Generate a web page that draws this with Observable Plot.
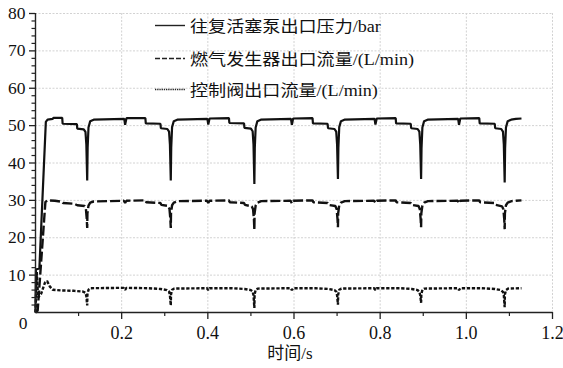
<!DOCTYPE html>
<html><head><meta charset="utf-8">
<script src="https://cdn.jsdelivr.net/npm/d3@7"></script>
<script src="https://cdn.jsdelivr.net/npm/@observablehq/plot@0.6"></script>
<style>
body{margin:0;background:#fff;}
#wrap{position:relative;width:563px;height:368px;}
.row{position:absolute;left:155px;height:20px;display:flex;align-items:center;white-space:nowrap;}
.row span{display:inline-block;margin-left:5px;transform:scaleX(1.13);transform-origin:0 50%;font-family:"Liberation Serif","Noto Sans CJK SC",serif;font-size:16px;color:#111;}
</style></head>
<body>
<div id="wrap"></div>
<script>
// series names
const seriesNames = ["往复活塞泵出口压力/bar", "燃气发生器出口流量/(L/min)", "控制阀出口流量/(L/min)"];
const xLabel = "时间/s";
const xTicks = [0.2, 0.4, 0.6, 0.8, 1.0, 1.2];
const xMinor = [0.1, 0.3, 0.5, 0.7, 0.9, 1.1];
const yTicks = [10, 20, 30, 40, 50, 60, 70, 80];
const yMinor = [2,4,6,8,12,14,16,18,22,24,26,28,32,34,36,38,42,44,46,48,52,54,56,58,62,64,66,68,72,74,76,78];

// 往复活塞泵出口压力 (bar)
const pressT = [0,0.001,0.009,0.024,0.028,0.040,0.042,0.062,0.063,0.096,0.097,0.112,0.116,0.118,0.120,0.121,0.123,0.127,0.135,
 0.206,0.208,0.211,0.212,0.255,0.256,0.290,0.291,0.306,0.310,0.312,0.314,0.315,0.317,0.321,0.329,
 0.399,0.401,0.404,0.449,0.450,0.484,0.485,0.500,0.504,0.506,0.508,0.509,0.511,0.515,0.523,
 0.593,0.595,0.598,0.643,0.644,0.678,0.679,0.694,0.698,0.700,0.702,0.703,0.705,0.709,0.717,
 0.787,0.789,0.792,0.836,0.837,0.871,0.872,0.887,0.891,0.893,0.895,0.896,0.898,0.902,0.910,
 0.981,0.983,0.986,1.030,1.031,1.066,1.067,1.081,1.085,1.087,1.089,1.090,1.092,1.096,1.104,1.115,1.128];
const pressV = [0,11.5,11.8,51.0,51.6,51.8,52.1,52.1,50.5,50.4,49.2,49.0,48.3,45.0,35.3,44,49.5,51.2,51.6,
 51.8,50.2,51.9,52.0,52.0,50.6,50.5,49.3,49.1,48.4,45,35.3,44,49.6,51.2,51.6,
 51.8,50.3,51.9,52.0,50.7,50.6,49.4,49.2,48.5,45,34.4,44,49.5,51.2,51.6,
 51.8,50.2,51.9,52.0,50.6,50.5,49.3,49.1,48.4,45,35.7,44,49.6,51.2,51.6,
 51.8,50.3,51.9,52.0,50.6,50.5,49.3,49.1,48.4,45,35.7,44,49.5,51.2,51.6,
 51.8,50.2,51.9,52.0,50.6,50.5,49.3,49.1,48.4,45,34.8,44,49.5,51.2,51.6,51.8,51.9];

// 燃气发生器出口流量 (L/min)
const gasT = [0,0.005,0.023,0.028,0.045,0.062,0.064,0.090,0.097,0.114,0.117,0.119,0.120,0.1205,0.123,0.127,0.135,
 0.205,0.208,0.211,0.255,0.257,0.290,0.292,0.308,0.311,0.313,0.314,0.3145,0.317,0.321,0.330,
 0.398,0.401,0.404,0.449,0.451,0.484,0.486,0.502,0.505,0.507,0.508,0.5085,0.511,0.515,0.524,
 0.592,0.595,0.598,0.643,0.645,0.678,0.680,0.696,0.699,0.701,0.702,0.7025,0.705,0.709,0.718,
 0.786,0.789,0.792,0.836,0.838,0.871,0.873,0.889,0.892,0.894,0.895,0.8955,0.898,0.902,0.911,
 0.980,0.983,0.986,1.030,1.032,1.066,1.068,1.083,1.086,1.088,1.089,1.0895,1.092,1.096,1.105,1.128];
const gasV = [0,0.5,29.6,30.0,29.9,29.6,29.3,29.1,28.7,28.5,27.8,25,22.6,26.5,28.6,29.4,29.7,
 29.9,29.3,29.9,30.0,29.5,29.3,28.8,28.5,27.7,25,22.6,26.5,28.7,29.4,29.8,
 29.9,29.3,29.9,30.0,29.5,29.3,28.8,28.4,27.6,25,22.1,26.5,28.6,29.4,29.8,
 29.9,29.2,29.9,30.0,29.5,29.3,28.8,28.5,27.7,25,22.8,26.5,28.7,29.4,29.8,
 29.9,29.3,29.9,30.0,29.5,29.3,28.8,28.5,27.7,25,22.8,26.5,28.6,29.4,29.8,
 29.9,29.2,29.9,30.0,29.5,29.3,28.8,28.4,27.6,25,22.3,26.5,28.7,29.4,29.8,30.0];

// 控制阀出口流量 (L/min)
const valveT = [0,0.003,0.006,0.013,0.022,0.027,0.033,0.040,0.060,0.090,0.110,0.116,0.118,0.120,0.1205,0.123,0.128,
 0.205,0.208,0.211,0.260,0.290,0.305,0.310,0.312,0.314,0.3145,0.317,0.322,
 0.398,0.401,0.404,0.455,0.485,0.500,0.504,0.506,0.508,0.5085,0.511,0.516,
 0.592,0.595,0.598,0.650,0.680,0.694,0.698,0.700,0.702,0.7025,0.705,0.710,
 0.786,0.789,0.792,0.845,0.873,0.887,0.891,0.893,0.895,0.8955,0.898,0.903,
 0.980,0.983,0.986,1.035,1.066,1.080,1.085,1.087,1.089,1.0895,1.092,1.097,1.128];
const valveV = [0,10.8,4,5.0,8.0,8.4,7.0,6.1,5.9,5.8,5.6,5.3,4.4,1.9,4.8,6.1,6.5,
 6.6,6.1,6.6,6.5,6.3,6.0,5.6,4.6,1.9,4.8,6.1,6.4,
 6.5,6.0,6.5,6.5,6.3,6.0,5.6,4.6,1.2,4.8,6.1,6.4,
 6.5,6.0,6.5,6.5,6.3,6.0,5.6,4.6,2.1,4.8,6.1,6.4,
 6.5,6.0,6.5,6.5,6.3,6.0,5.5,4.6,2.6,4.8,6.1,6.4,
 6.5,6.0,6.5,6.5,6.3,6.0,5.5,4.6,1.4,4.8,6.0,6.4,6.5];

const toRows = (ts, vs) => ts.map((t, i) => ({t, v: vs[i]}));
const pressure = toRows(pressT, pressV);
const gas = toRows(gasT, gasV);
const valve = toRows(valveT, valveV);

const font = '"Liberation Serif","Noto Sans CJK SC",serif';
const gridStyle = {stroke: "#d2d2d2", strokeOpacity: 1, strokeWidth: 1, strokeDasharray: "2,1.5"};
const lineBase = {x: "t", y: "v", stroke: "#111", curve: "linear", strokeLinecap: "butt", strokeLinejoin: "miter"};

const chart = Plot.plot({
  width: 563, height: 368,
  marginLeft: 35, marginRight: 11, marginTop: 13, marginBottom: 56,
  x: {domain: [0, 1.2]},
  y: {domain: [0, 80]},
  style: {fontFamily: font, color: "#111", background: "#fff"},
  marks: [
    Plot.gridY(yTicks, gridStyle),
    Plot.gridX(xTicks, gridStyle),
    Plot.line(pressure, {...lineBase, strokeWidth: 2.2}),
    Plot.line(gas, {...lineBase, strokeWidth: 2.4, strokeDasharray: "10,3"}),
    Plot.line(valve, {...lineBase, strokeWidth: 2.4, strokeDasharray: "3.3,1.7"}),
    Plot.ruleY([0], {stroke: "#222", strokeWidth: 1.4}),
    Plot.ruleX([0], {stroke: "#222", strokeWidth: 1.4}),
    Plot.axisY({ticks: yMinor, tickSize: 3.5, tickFormat: () => "", label: null, stroke: "#222", strokeWidth: 1.2}),
    Plot.axisY({ticks: yTicks, tickSize: 6, tickPadding: 4, fontSize: 17.5, label: null, stroke: "#222", strokeWidth: 1.3}),
    Plot.axisY({ticks: [0], tickSize: 0, tickPadding: 8, dy: 11, fontSize: 17.5, label: null}),
    Plot.axisX({ticks: xMinor, tickSize: 4, tickFormat: () => "", label: null, stroke: "#222", strokeWidth: 1.2}),
    Plot.axisX({ticks: xTicks, tickSize: 7, tickPadding: 7, fontSize: 18, tickFormat: d3.format(".1f"), label: null, stroke: "#222", strokeWidth: 1.3}),
    Plot.text([xLabel], {frameAnchor: "bottom", dy: 46, dx: -4, fontSize: 17, fill: "#111"})
  ]
});

const wrap = document.getElementById("wrap");
wrap.appendChild(chart);

// legend overlay inside the plot area
const legendRows = [
  {name: seriesNames[0], center: 25, dash: null, width: 1.4},
  {name: seriesNames[1], center: 58, dash: "5,2", width: 1.6},
  {name: seriesNames[2], center: 88.5, dash: "1.3,0.9", width: 1.3}
];
for (const r of legendRows) {
  const row = document.createElement("div");
  row.className = "row";
  row.style.top = (r.center - 10) + "px";
  const svg = `<svg width="30" height="20"><line x1="0" x2="30" y1="10.5" y2="10.5" stroke="#222" stroke-width="${r.width}" ${r.dash ? `stroke-dasharray="${r.dash}"` : ""}/></svg>`;
  row.innerHTML = svg + `<span>${r.name}</span>`;
  wrap.appendChild(row);
}
</script>
</body></html>
